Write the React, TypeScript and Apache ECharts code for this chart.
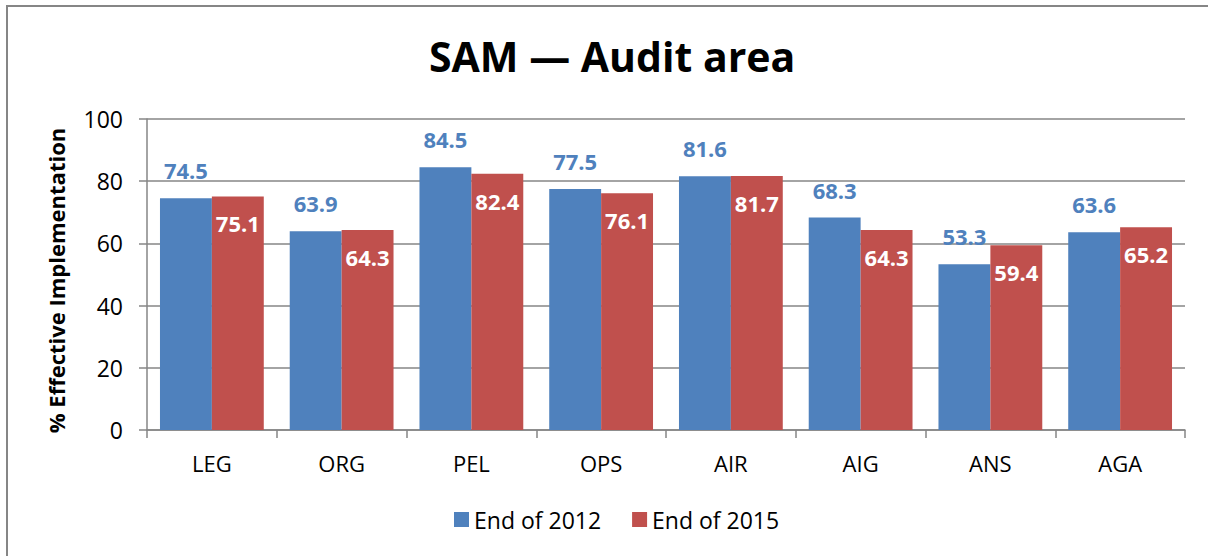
import React, { useEffect, useRef } from "react";
import * as echarts from "echarts";

const categories = ["LEG", "ORG", "PEL", "OPS", "AIR", "AIG", "ANS", "AGA"];
const end2012 = [74.5, 63.9, 84.5, 77.5, 81.6, 68.3, 53.3, 63.6];
const end2015 = [75.1, 64.3, 82.4, 76.1, 81.7, 64.3, 59.4, 65.2];
const seriesNames = ["End of 2012", "End of 2015"];
const titleText = "SAM \u2014 Audit area";
const yAxisName = "% Effective Implementation";

const FONT = "'Open Sans', sans-serif";

export default function App() {
  const ref = useRef<HTMLDivElement>(null);
  useEffect(() => {
    if (!ref.current) return;
    const chart = echarts.init(ref.current, null, { renderer: "svg" });
    chart.setOption({
      animation: false,
      backgroundColor: "#ffffff",
      textStyle: { fontFamily: FONT },
      graphic: [
        {
          type: "rect",
          shape: { x: 7, y: 6, width: 1400, height: 800 },
          style: { fill: "none", stroke: "#868686", lineWidth: 2 },
          silent: true,
        },
      ],
      title: {
        text: titleText,
        left: 424,
        top: 30,
        textStyle: { fontFamily: FONT, fontSize: 41, fontWeight: "bold", color: "#000" },
      },
      legend: {
        data: seriesNames,
        bottom: 20,
        left: 449,
        itemWidth: 15,
        itemHeight: 15,
        itemGap: 31,
        icon: "rect",
        textStyle: { fontFamily: FONT, fontSize: 23, color: "#000" },
      },
      grid: { left: 147, right: 23, top: 119, bottom: 126, containLabel: false },
      xAxis: {
        type: "category",
        data: categories,
        axisLine: { lineStyle: { color: "#868686", width: 1.5 } },
        axisTick: { show: true, alignWithLabel: false, length: 8, lineStyle: { color: "#868686", width: 1.5 } },
        axisLabel: { color: "#000", fontSize: 22, fontFamily: FONT, margin: 22 },
      },
      yAxis: {
        type: "value",
        min: 0,
        max: 100,
        interval: 20,
        name: yAxisName,
        nameLocation: "middle",
        nameGap: 80,
        nameTextStyle: {
          fontFamily: FONT,
          fontSize: 22,
          fontWeight: "bold",
          color: "#000",
          padding: [0, 12, 0, 0],
        },
        axisLine: { show: true, lineStyle: { color: "#868686", width: 1.5 } },
        axisTick: { show: true, length: 8, lineStyle: { color: "#868686", width: 1.5 } },
        axisLabel: { color: "#000", fontSize: 23, fontFamily: FONT, margin: 24 },
        splitLine: { lineStyle: { color: "#868686", width: 1.5 } },
      },
      series: [
        {
          name: seriesNames[0],
          type: "bar",
          data: end2012,
          barGap: "0%",
          barCategoryGap: "20%",
          itemStyle: { color: "#4F81BD" },
          label: {
            show: true,
            position: "top",
            distance: 17,
            color: "#4F81BD",
            fontWeight: "bold",
            fontSize: 22,
            fontFamily: FONT,
          },
        },
        {
          name: seriesNames[1],
          type: "bar",
          data: end2015,
          barGap: "0%",
          barCategoryGap: "20%",
          itemStyle: { color: "#C0504D" },
          label: {
            show: true,
            position: "insideTop",
            distance: 16,
            color: "#ffffff",
            fontWeight: "bold",
            fontSize: 22,
            fontFamily: FONT,
          },
        },
      ],
    });
    return () => chart.dispose();
  }, []);
  return (
    <div
      ref={ref}
      style={{ position: "fixed", left: 0, top: 0, width: 1208, height: 556 }}
    />
  );
}
